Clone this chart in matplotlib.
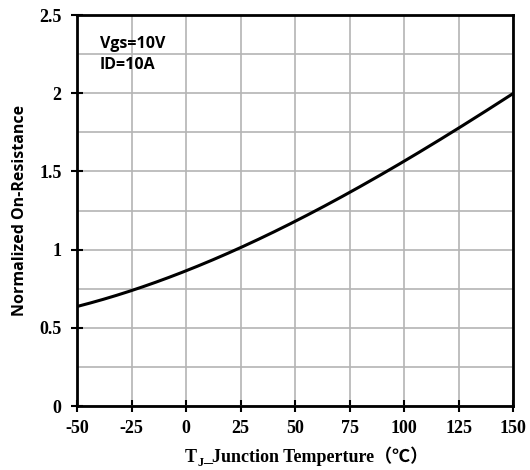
import numpy as np
import matplotlib.pyplot as plt
from matplotlib.ticker import MultipleLocator

# values
temp_c = [-50, -25, 0, 25, 50, 75, 100, 125, 150]
r_norm = [0.635, 0.745, 0.86, 1.005, 1.19, 1.37, 1.56, 1.775, 2.0]

x_ticks = [-50, -25, 0, 25, 50, 75, 100, 125, 150]
y_ticks = [0, 0.5, 1, 1.5, 2, 2.5]
y_ticklabels = ['0', '0.5', '1', '1.5', '2', '2.5']

serif = ['Liberation Serif', 'DejaVu Serif']
cjk = ['Liberation Serif', 'Noto Sans CJK SC']
sans = ['Open Sans', 'DejaVu Sans']

plt.rcParams['axes.unicode_minus'] = False
plt.rcParams['font.weight'] = 'bold'

fig = plt.figure(figsize=(5.3, 4.7), dpi=100)
ax = fig.add_axes([0.1453, 0.136, 0.8227, 0.832])

# smooth the read points a little with a cubic through them
xs = np.linspace(temp_c[0], temp_c[-1], 200)
coef = np.polyfit(temp_c, r_norm, 3)
ax.plot(xs, np.polyval(coef, xs), color='black', lw=2.2)

ax.set_xlim(-50, 150)
ax.set_ylim(0, 2.5)
ax.set_xticks(x_ticks)
ax.set_yticks(y_ticks)
ax.set_yticklabels(y_ticklabels)
ax.yaxis.set_minor_locator(MultipleLocator(0.25))
ax.grid(True, which='both', color='#b4b4b4', lw=1.2)
ax.set_axisbelow(True)
ax.tick_params(which='major', direction='inout', length=8, width=1.5,
               labelsize=13, labelfontfamily='Liberation Serif')
ax.tick_params(axis='x', pad=6)
ax.tick_params(axis='y', pad=7)
ax.tick_params(which='minor', length=0)
for s in ax.spines.values():
    s.set_linewidth(2)
    s.set_color('black')

ax.set_ylabel('Normalized On-Resistance', family=sans, fontweight='bold', fontsize=11.5, labelpad=8)

# x label: T with subscript J, then the rest (CJK fallback for the brackets)
y_base = (470 - 462) / 470
t1 = fig.text(185 / 530, y_base, 'T', family=serif, fontweight='bold', fontsize=13, va='baseline')
t2 = ax.annotate('J', xy=(1, y_base), xycoords=(t1, 'figure fraction'), xytext=(0, -3),
                 textcoords='offset points', family=serif, fontweight='bold', fontsize=9, va='baseline')
ax.annotate('_Junction Temperture（℃）', xy=(1, y_base), xycoords=(t2, 'figure fraction'),
            family=cjk, fontweight='bold', fontsize=13, va='baseline')

ax.text(0.053, 0.926, 'Vgs=10V', transform=ax.transAxes, family=sans,
        fontweight='bold', fontsize=11.5, va='center')
ax.text(0.053, 0.872, 'ID=10A', transform=ax.transAxes, family=sans,
        fontweight='bold', fontsize=11.5, va='center')

fig.savefig('out.png', dpi=100)
